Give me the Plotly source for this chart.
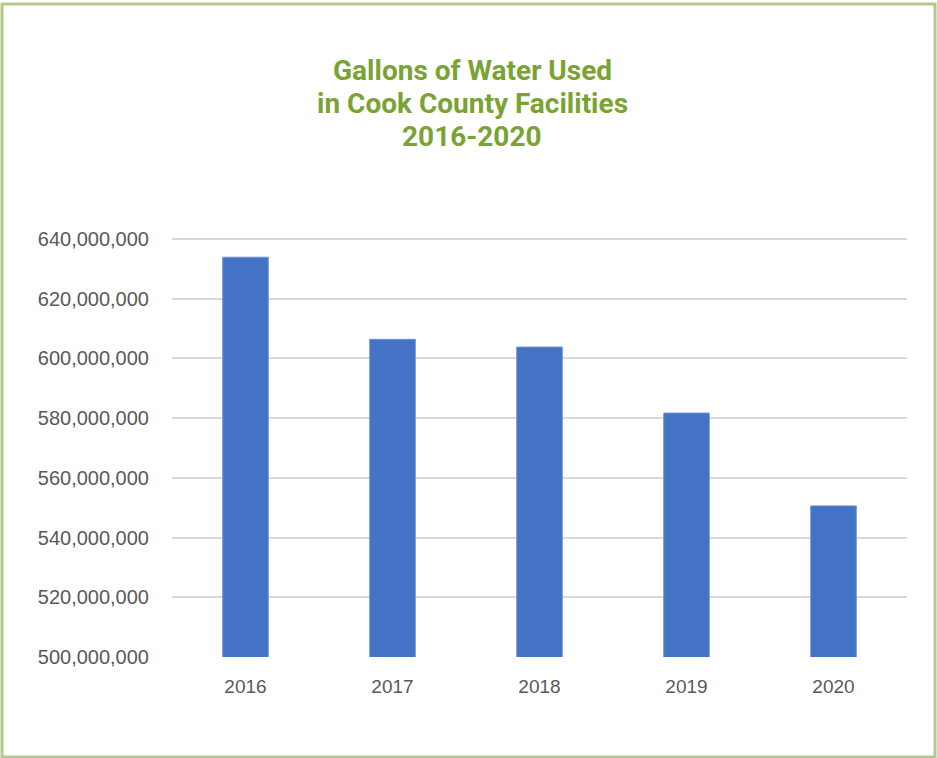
import plotly.graph_objects as go

years = ["2016", "2017", "2018", "2019", "2020"]
gallons = [633900000, 606400000, 603800000, 581700000, 550600000]
y_ticks = [500000000, 520000000, 540000000, 560000000, 580000000, 600000000, 620000000, 640000000]
y_tick_labels = [f"{v:,}" for v in y_ticks]
title_lines = ["Gallons of Water Used", "in Cook County Facilities", "2016-2020"]

W, H = 937, 758
L, R, T, B = 172, 30, 236, 101
pw, ph = W - L - R, H - T - B

def px_x(p):
    return (p - L) / pw

def px_y(p):
    return (H - B - p) / ph

fig = go.Figure()
fig.add_trace(go.Bar(
    x=years, y=gallons,
    marker=dict(color="#4472C4", line=dict(color="#6F93D6", width=1)),
    width=0.31,
    hoverinfo="x+y",
))

fig.update_layout(
    width=W, height=H,
    margin=dict(l=L, r=R, t=T, b=B),
    paper_bgcolor="white", plot_bgcolor="white",
    showlegend=False,
    xaxis=dict(
        type="category",
        showgrid=False, showline=False, zeroline=False,
        ticks="outside", ticklen=12, tickcolor="rgba(0,0,0,0)",
        tickfont=dict(family="Liberation Sans", size=19, color="#595959"),
    ),
    yaxis=dict(
        range=[500000000, 641000000],
        tickvals=y_ticks, ticktext=y_tick_labels,
        showgrid=True, gridcolor="#D9D9D9", gridwidth=1.5,
        zeroline=False, showline=False,
        ticks="outside", ticklen=18, tickcolor="rgba(0,0,0,0)",
        tickfont=dict(family="Liberation Sans", size=20, color="#595959"),
    ),
)

title_centers = [70, 103, 136]
for line, yc in zip(title_lines, title_centers):
    fig.add_annotation(
        text=line, xref="paper", yref="paper",
        x=px_x(472), y=px_y(yc), xanchor="center", yanchor="middle",
        showarrow=False,
        font=dict(family="Roboto", size=28, color="#7AA333", weight="bold"),
    )

fig.add_shape(
    type="rect", xref="paper", yref="paper",
    x0=px_x(2), x1=px_x(935), y0=px_y(757), y1=px_y(4),
    line=dict(color="#B4C78C", width=3), fillcolor="rgba(0,0,0,0)",
    layer="below",
)

fig.write_html(
    "out.html",
    config={"displayModeBar": False},
    post_script="document.body.style.margin='0';document.body.style.overflow='hidden';",
)
